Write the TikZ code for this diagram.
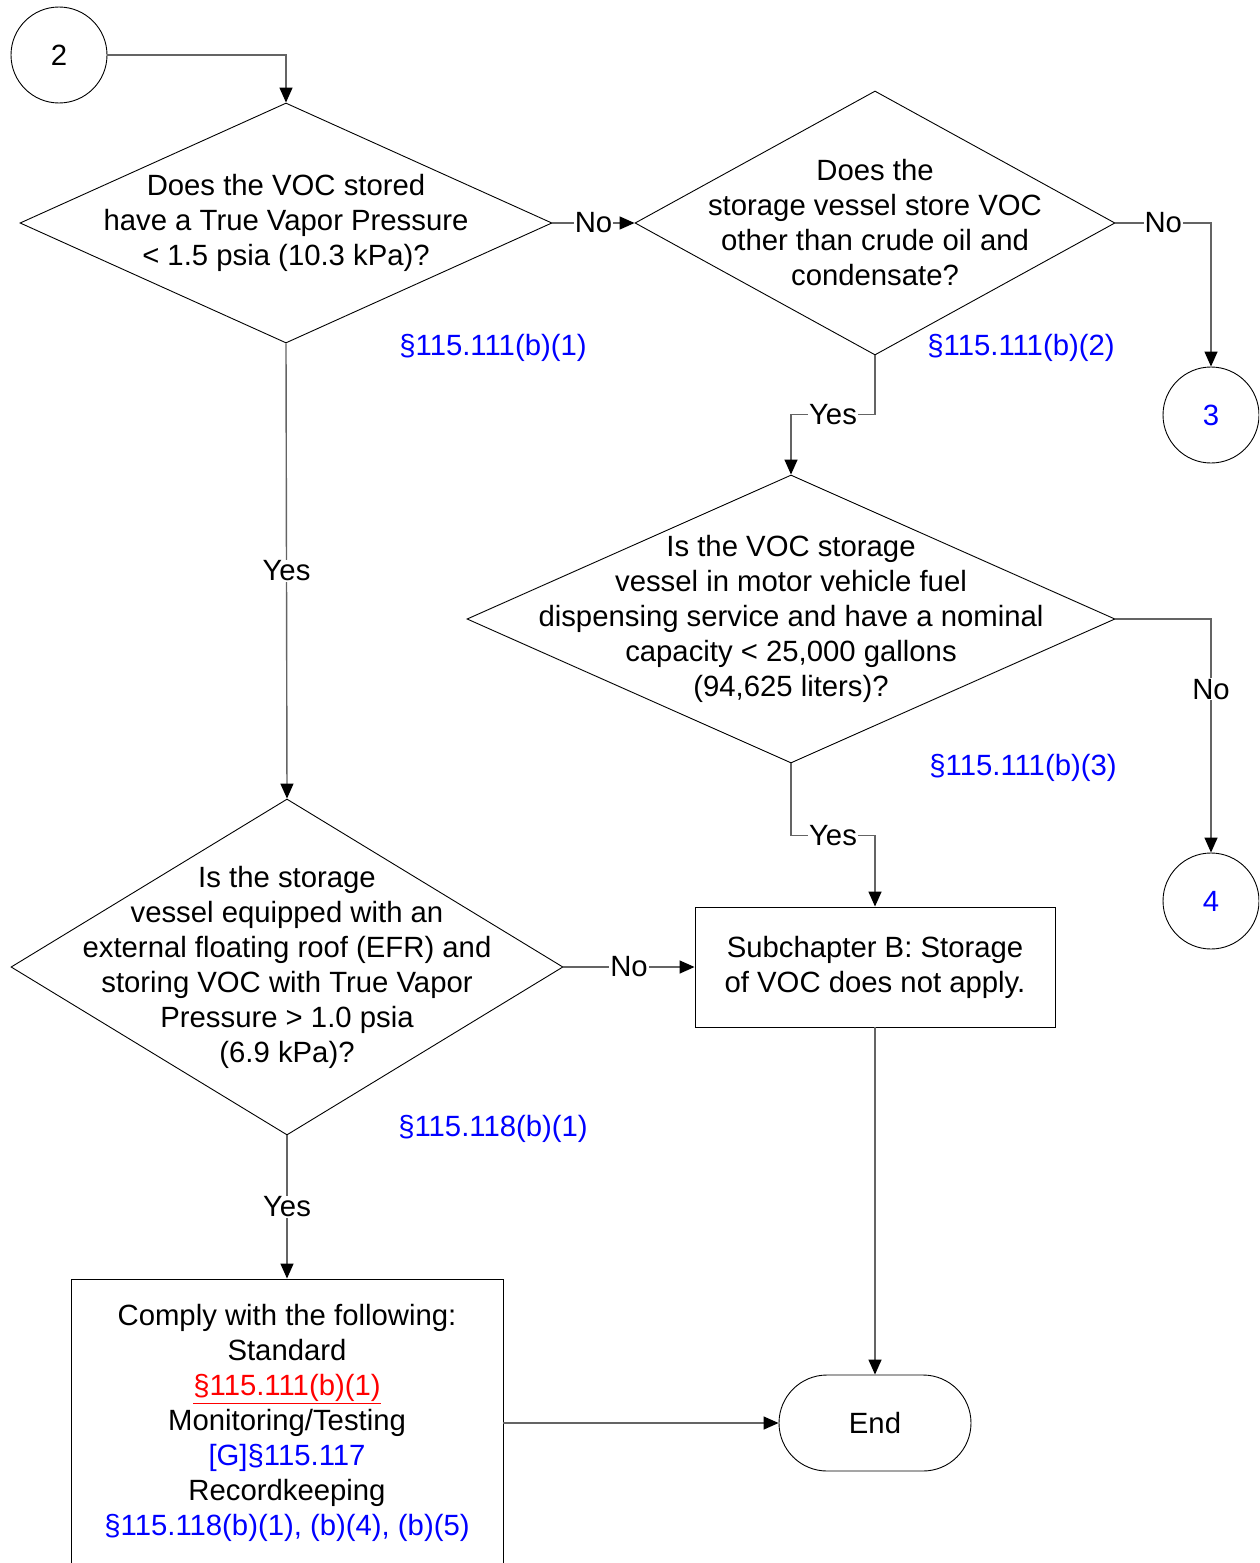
\documentclass[tikz,border=0pt]{standalone}
\usepackage{fontspec}
\setmainfont{Liberation Sans}
\usetikzlibrary{arrows.meta}
\usetikzlibrary{shapes.geometric}
\definecolor{refblue}{RGB}{0,0,255}
\definecolor{linegray}{RGB}{100,100,100}

\begin{document}
\begin{tikzpicture}[x=1pt, y=-1pt,
    font=\fontsize{29.3}{35}\selectfont,
    conn/.style={draw=linegray, line width=1.4pt, -{Triangle[length=15pt,width=13pt,color=black]}},
    lbl/.style={fill=white, inner sep=1pt},
    dec/.style={draw, diamond, line width=0.9pt, inner sep=0pt},
    proc/.style={draw, rectangle, line width=0.9pt, align=center},
    conn-pt/.style={draw, circle, line width=0.9pt, minimum size=96pt, inner sep=0pt},
    ref/.style={text=refblue}]
    \useasboundingbox (0,0) rectangle (1259,1563);
    \clip (0,0) rectangle (1259,1563);
    % off-page connectors
    \node[conn-pt] (c2) at (59,55) {2};
    \node[conn-pt, text=refblue] (c3) at (1211,415) {3};
    \node[conn-pt, text=refblue] (c4) at (1211,901) {4};
    % decisions
    \node[dec, minimum width=532pt, minimum height=240pt] (d1) at (286,223) {};
    \node[align=center] at (d1) {Does the VOC stored\\have a True Vapor Pressure\\< 1.5 psia (10.3 kPa)?};
    \node[dec, minimum width=480pt, minimum height=264pt] (d2) at (875,223) {};
    \node[align=center] at (d2) {Does the\\storage vessel store VOC\\other than crude oil and\\condensate?};
    \node[dec, minimum width=648pt, minimum height=288pt] (d3) at (791,619) {};
    \node[align=center] at (d3) {Is the VOC storage\\vessel in motor vehicle fuel\\dispensing service and have a nominal\\capacity < 25,000 gallons\\(94,625 liters)?};
    \node[dec, minimum width=552pt, minimum height=336pt] (d4) at (287,967) {};
    \node[align=center] at (d4) {Is the storage\\vessel equipped with an\\external floating roof (EFR) and\\storing VOC with True Vapor\\Pressure > 1.0 psia\\(6.9 kPa)?};
    % rule references
    \node[ref] (r1) at (493,348) {§115.111(b)(1)};
    \node[ref] (r2) at (1021,348) {§115.111(b)(2)};
    \node[ref] (r3) at (1023,768) {§115.111(b)(3)};
    \node[ref] (r4) at (493,1129) {§115.118(b)(1)};
    % boxes
    \node[proc, minimum width=360pt, minimum height=120pt] (b1) at (875,967) {Subchapter B: Storage\\of VOC does not apply.};
    \node[proc, minimum width=432pt, minimum height=288pt] (b2) at (287,1423) {Comply with the following:\\Standard\\{\color{red}\underline{§115.111(b)(1)}}\\Monitoring/Testing\\{\color{refblue}[G]§115.117}\\Recordkeeping\\{\color{refblue}§115.118(b)(1), (b)(4), (b)(5)}};
    \node[draw, line width=0.9pt, rounded corners=48pt, minimum width=192pt, minimum height=96pt] (end) at (875,1423) {End};
    % connectors
    \draw[conn] (c2.east) -| (d1.north);
    \draw[conn] (d1.east) -- node[lbl] {No} (d2.west);
    \draw[conn] (d2.east) -| node[lbl, pos=0.25] {No} (c3.north);
    \draw[conn] (d2.south) -- ++(0,59) -| node[lbl, pos=0.25] {Yes} (d3.north);
    \draw[conn] (d3.east) -| node[lbl, pos=0.65] {No} (c4.north);
    \draw[conn] (d3.south) -- ++(0,72) -| node[lbl, pos=0.25] {Yes} (b1.north);
    \draw[conn] (d1.south) -- node[lbl] {Yes} (d4.north);
    \draw[conn] (d4.east) -- node[lbl] {No} (b1.west);
    \draw[conn] (d4.south) -- node[lbl] {Yes} (b2.north);
    \draw[conn] (b2.east) -- (end.west);
    \draw[conn] (b1.south) -- (end.north);
\end{tikzpicture}
\end{document}
